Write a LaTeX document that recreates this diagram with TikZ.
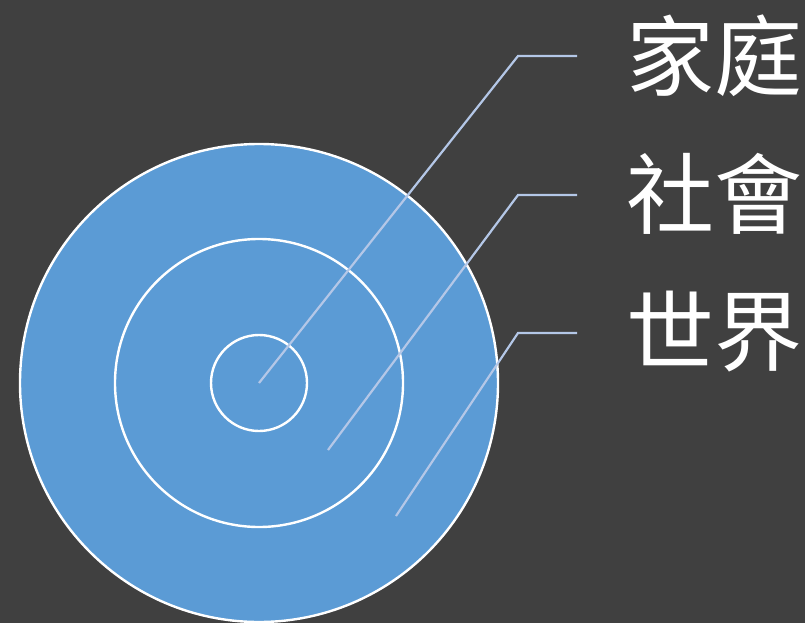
\documentclass[tikz,border=0pt]{standalone}
\usepackage{fontspec}
\newfontfamily\cjk{Noto Sans CJK TC}
\definecolor{bg}{HTML}{404040}
\definecolor{ringfill}{HTML}{5B9BD5}
\definecolor{leader}{HTML}{B4C7E7}
\begin{document}
\begin{tikzpicture}[x=1pt,y=-1pt,
  ring/.style={draw=white,line width=2.4pt,circle,inner sep=0pt,fill=ringfill},
  leaderline/.style={draw=leader,line width=2.2pt},
  lbl/.style={anchor=west,text=white,font=\cjk\fontsize{88}{88}\selectfont,inner sep=0pt}]
\fill[bg] (0,0) rectangle (805,623);
\useasboundingbox (0,0) rectangle (805,623);
\node[ring,minimum size=478pt] (big) at (259,383) {};
\node[ring,minimum size=288pt] (mid) at (259,383) {};
\node[ring,minimum size=96pt] (small) at (259,383) {};
\coordinate (p1) at (259,383);
\coordinate (p2) at (328,450);
\coordinate (p3) at (396,516);
\coordinate (k1) at (518,56);
\coordinate (k2) at (518,195);
\coordinate (k3) at (518,333);
\coordinate (e1) at (577,56);
\coordinate (e2) at (577,195);
\coordinate (e3) at (577,333);
\node[lbl] (t1) at (626,56) {家庭};
\node[lbl] (t2) at (626,194) {社會};
\node[lbl] (t3) at (626,332) {世界};
\draw[leaderline] (p1) -- (k1) -- (e1);
\draw[leaderline] (p2) -- (k2) -- (e2);
\draw[leaderline] (p3) -- (k3) -- (e3);
\end{tikzpicture}
\end{document}
